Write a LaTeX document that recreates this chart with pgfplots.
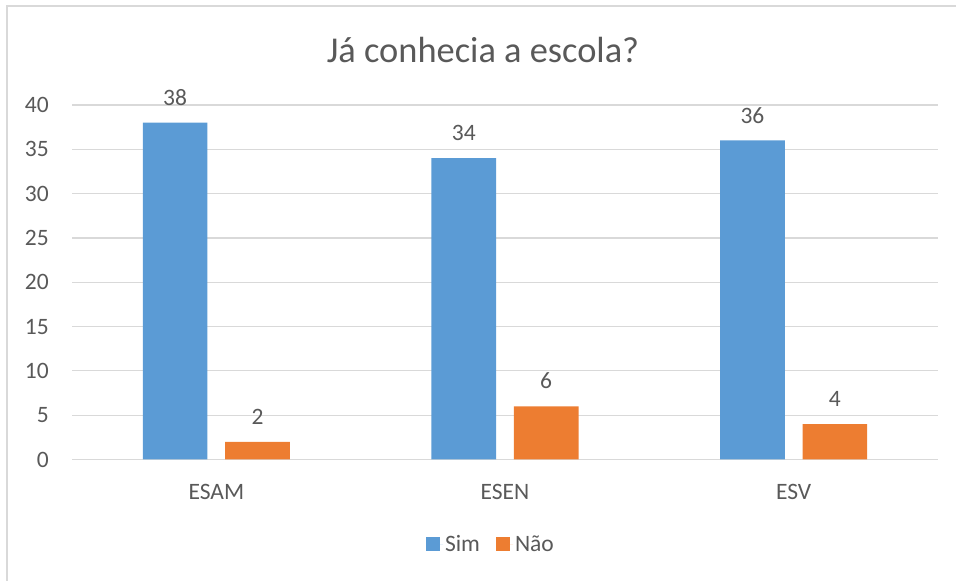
\documentclass[border=0pt]{standalone}
\usepackage{pgfplots}
\pgfplotsset{compat=1.18}
\usepackage{fontspec}
\setmainfont{Carlito}
\definecolor{simc}{HTML}{5B9BD5}
\definecolor{naoc}{HTML}{ED7D31}
\definecolor{txt}{HTML}{595959}
\definecolor{gridc}{HTML}{D9D9D9}
\begin{document}
\begin{tikzpicture}
\useasboundingbox (0,0) rectangle (956pt,581pt);
\draw[gridc, line width=1.2pt] (7pt,0pt) -- (7pt,575pt) -- (960pt,575pt);
\node[txt, font=\fontsize{36.4}{40}\selectfont] at (483pt,531pt) {Já conhecia a escola?};
\begin{axis}[
  at={(72pt,121.5pt)}, anchor=south west,
  scale only axis, width=866pt, height=354.5pt,
  xmin=-0.5, xmax=2.5, ymin=0, ymax=40,
  ytick={0,5,...,40},
  xtick={0,1,2}, xticklabels={ESAM,ESEN,ESV},
  axis x line*=bottom, axis y line*=left,
  y axis line style={draw=none},
  x axis line style={draw=gridc, line width=1.2pt},
  major tick length=0pt,
  ymajorgrids, grid style={gridc, line width=1.2pt},
  ticklabel style={font=\fontsize{23.5}{28}\selectfont, text=txt},
  /pgf/number format/assume math mode=true,
  yticklabel style={anchor=east, inner sep=0pt, xshift=-23pt},
  xticklabel style={anchor=north, inner sep=0pt, yshift=-24.5pt},
  ybar, bar width=0.224,
  nodes near coords,
  nodes near coords style={font=\fontsize{23.5}{28}\selectfont, text=txt, anchor=south, inner sep=0pt, yshift=17pt},
  legend style={at={(axis description cs:0.4838,-0.2384)}, anchor=center, draw=none, fill=none,
    legend columns=2, font=\fontsize{23.5}{28}\selectfont, text=txt,
    /tikz/every even column/.append style={column sep=14pt},
    legend cell align=left},
  legend image code/.code={\fill[#1] (0pt,-7pt) rectangle (14pt,7pt); \path (0pt,0pt) -- (17pt,0pt);},
]
\addplot[fill=simc, draw=none, bar shift=-0.1427] coordinates {(0,38) (1,34) (2,36)};
\addplot[fill=naoc, draw=none, bar shift=0.1427] coordinates {(0,2) (1,6) (2,4)};
\legend{Sim,Não}
\end{axis}
\end{tikzpicture}
\end{document}
